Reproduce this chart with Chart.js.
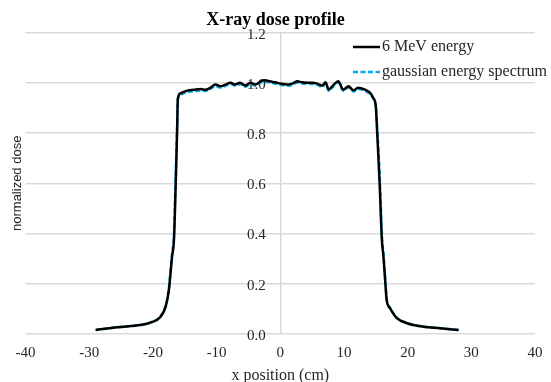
<!DOCTYPE html>
<html>
<head>
<meta charset="utf-8">
<script src="https://cdn.jsdelivr.net/npm/chart.js@4/dist/chart.umd.min.js"></script>
<style>
html,body{margin:0;padding:0;background:#fff;}
#wrap{width:551px;height:382px;position:relative;}
</style>
</head>
<body>
<div id="wrap"><canvas id="c" width="551" height="382"></canvas></div>
<script>
// ---- data ----
const xPositions = [-29.0,-25.6,-22.0,-20.4,-18.8,-18.0,-17.5,-17.0,-16.7,-16.4,-16.2,-16.1,-15.7,-14.6,-13.6,-12.5,-11.8,-11.0,-10.2,-9.4,-8.6,-7.8,-7.1,-6.3,-5.5,-4.7,-3.9,-3.1,-2.4,-1.6,-0.8,0.0,1.1,1.9,2.7,3.4,4.2,5.0,5.8,6.6,7.1,7.6,8.4,9.1,9.9,10.7,11.5,12.2,13.3,14.1,14.6,15.0,15.2,15.6,15.95,16.2,16.5,16.7,17.25,18.3,19.9,22.5,25.1,28.0];
const mev6Dose = [0.016,0.027,0.036,0.045,0.069,0.109,0.175,0.308,0.375,0.62,0.814,0.933,0.958,0.969,0.972,0.975,0.972,0.980,0.993,0.986,0.993,1.000,0.993,1.000,0.989,1.000,0.993,1.006,1.010,1.006,1.002,0.997,0.993,0.997,1.006,1.002,1.000,1.000,0.997,0.989,1.002,0.973,0.993,1.006,0.973,0.986,0.970,0.980,0.973,0.960,0.940,0.906,0.810,0.600,0.375,0.308,0.202,0.136,0.102,0.063,0.043,0.029,0.023,0.016];
const gaussianDose = [0.016,0.027,0.036,0.046,0.071,0.113,0.182,0.320,0.400,0.660,0.830,0.935,0.953,0.963,0.966,0.969,0.967,0.975,0.987,0.981,0.988,0.995,0.988,0.995,0.984,0.995,0.988,1.001,1.004,1.001,0.997,0.992,0.988,0.992,1.001,0.997,0.995,0.995,0.992,0.984,0.997,0.968,0.988,1.001,0.968,0.981,0.965,0.975,0.968,0.955,0.937,0.905,0.825,0.640,0.400,0.320,0.212,0.142,0.105,0.065,0.044,0.029,0.023,0.016];
const seriesNames = ['6 MeV energy','gaussian energy spectrum'];
const chartTitle = 'X-ray dose profile';
const xTitle = 'x position (cm)';
const yTitle = 'normalized dose';

const toPts = (xs, ys) => xs.map((x, i) => ({x: x, y: ys[i]}));

const SERIF = "'Liberation Serif','Times New Roman',serif";
const SANS = "'Liberation Sans',Arial,sans-serif";
const TXT = '#262626';
const GRID = '#d9d9d9';

const legendInPlot = {
  id: 'legendInPlot',
  afterDraw(chart) {
    const ctx = chart.ctx;
    const rows = [47, 72];
    chart.data.datasets.forEach((ds, i) => {
      const y = rows[i];
      ctx.save();
      ctx.strokeStyle = ds.borderColor;
      ctx.lineWidth = ds.borderWidth;
      ctx.setLineDash(ds.borderDash || []);
      ctx.beginPath();
      ctx.moveTo(353, y);
      ctx.lineTo(380, y);
      ctx.stroke();
      ctx.setLineDash([]);
      ctx.fillStyle = TXT;
      ctx.font = "16px " + SERIF;
      ctx.textBaseline = 'middle';
      ctx.textAlign = 'left';
      ctx.fillText(ds.label, 382, y);
      ctx.restore();
    });
  }
};

new Chart(document.getElementById('c'), {
  type: 'scatter',
  data: {
    datasets: [
      {label: seriesNames[0], data: toPts(xPositions, mev6Dose), showLine: true, borderColor: '#000000', backgroundColor: '#000000', borderWidth: 2.5, pointRadius: 0, cubicInterpolationMode: 'monotone'},
      {label: seriesNames[1], data: toPts(xPositions, gaussianDose), showLine: true, borderColor: '#00B0F0', backgroundColor: '#00B0F0', borderWidth: 2.5, borderDash: [5, 2.5], pointRadius: 0, cubicInterpolationMode: 'monotone'}
    ]
  },
  options: {
    responsive: false,
    animation: false,
    devicePixelRatio: 1,
    layout: {padding: {left: 0, right: 0, top: 0, bottom: 0}},
    plugins: {
      legend: {display: false},
      tooltip: {enabled: false},
      title: {display: true, text: chartTitle, color: '#000', font: {family: SERIF, size: 18, weight: 'bold'}, padding: {top: 10, bottom: 1}}
    },
    scales: {
      x: {
        type: 'linear', min: -40, max: 40,
        grid: {display: true, drawTicks: false, lineWidth: 1.5,
               color: c => (c.tick && c.tick.value === 0) ? GRID : 'rgba(0,0,0,0)'},
        border: {display: false},
        afterFit: s => { s.paddingLeft = 0; s.paddingRight = 16; },
        ticks: {stepSize: 10, color: TXT, font: {family: SERIF, size: 15, lineHeight: 0.4}, padding: 16, maxRotation: 0},
        title: {display: true, text: xTitle, color: TXT, font: {family: SERIF, size: 16, lineHeight: 0.5}, padding: {top: 0, bottom: 2}}
      },
      y: {
        type: 'linear', min: 0, max: 1.2,
        position: {x: -2.3},
        grid: {color: GRID, lineWidth: 1.5, drawTicks: false},
        border: {display: false},
        afterFit: s => { s.paddingTop = 0; s.paddingBottom = 0; },
        ticks: {stepSize: 0.2, color: TXT, font: {family: SERIF, size: 15}, padding: 0, labelOffset: 2, callback: v => Number(v).toFixed(1)}
      },
      yTitleAxis: {
        type: 'linear', min: 0, max: 1.2, position: 'left',
        grid: {display: false, drawTicks: false}, border: {display: false},
        ticks: {display: false},
        title: {display: true, text: yTitle, color: TXT, font: {family: SANS, size: 13}, padding: {top: 10, bottom: 0}}
      }
    }
  },
  plugins: [legendInPlot]
});
</script>
</body>
</html>
